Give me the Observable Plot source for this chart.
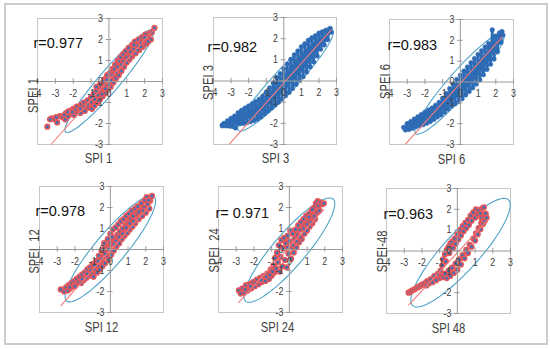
<!DOCTYPE html>
<html><head><meta charset="utf-8">
<script src="https://cdn.jsdelivr.net/npm/d3@7"></script>
<script src="https://cdn.jsdelivr.net/npm/@observablehq/plot@0.6"></script>
<style>
body{margin:0;background:#fff;}
#fig{position:relative;width:550px;height:349px;overflow:hidden;background:#fff;}
#border{position:absolute;left:4px;top:3px;width:540px;height:338px;border:2px solid #cdcdcd;}
.panel{position:absolute;}
svg text{white-space:pre;}
</style></head><body><div id="fig"><div id="border"></div></div>
<script>
// ---- data (SPI, SPEI) ----
const p1 = [[-3.45,-2.15],[-3.2,-1.75],[-3.05,-1.8],[-2.9,-1.95],[-2.75,-1.65],[-2.6,-1.7],[-2.45,-1.8],[-2.4,-1.5],[-2.3,-1.65],[-2.2,-1.4],[-2.1,-1.55],[-2.0,-1.3],[-1.95,-1.6],[-1.85,-1.45],[-1.8,-1.2],[-1.7,-1.35],[-1.6,-1.5],[-1.55,-1.1],[-1.5,-1.3],[-1.4,-1.0],[-1.35,-1.4],[-1.3,-1.15],[-1.2,-0.9],[-1.15,-1.25],[-1.1,-1.05],[-1.0,-0.75],[-0.95,-1.3],[-0.9,-0.95],[-0.85,-0.6],[-0.8,-1.15],[-0.75,-0.8],[-0.7,-0.45],[-0.65,-1.0],[-0.6,-0.65],[-0.55,-0.3],[-0.5,-0.85],[-0.45,-0.5],[-0.4,-0.1],[-0.35,-0.7],[-0.3,-0.3],[-0.25,0.1],[-0.2,-0.55],[-0.15,-0.15],[-0.1,0.3],[-0.05,-0.4],[0,0.0],[0.05,0.4],[0.1,-0.25],[0.15,0.15],[0.2,0.6],[0.25,-0.05],[0.3,0.35],[0.35,0.8],[0.4,0.15],[0.45,0.55],[0.5,1.0],[0.55,0.3],[0.6,0.75],[0.65,1.15],[0.7,0.5],[0.75,0.95],[0.8,1.3],[0.85,0.7],[0.9,1.1],[0.95,1.45],[1.0,0.9],[1.05,1.25],[1.1,1.6],[1.15,1.05],[1.2,1.4],[1.3,1.75],[1.3,1.2],[1.4,1.55],[1.45,1.9],[1.5,1.35],[1.6,1.7],[1.65,2.0],[1.7,1.5],[1.8,1.85],[1.85,2.1],[1.9,1.65],[2.0,1.95],[2.05,2.25],[2.1,1.8],[2.2,2.1],[2.3,2.3],[2.35,2.0],[2.55,2.55],
  [-0.6,-0.9],[-0.4,-0.6],[-0.2,-0.35],[0,-0.15],[0.2,0.3],[0.4,0.45],[0.6,0.95],[0.8,0.95],[-0.3,0.0],[-0.1,0.1],[0.1,0.05],[0.3,0.6],[0.5,0.7],[0.7,0.8],[-0.8,-0.85],[-1.0,-1.0],[-1.2,-1.1],[-1.4,-1.2],[-1.6,-1.3],[-1.9,-1.35],[1.0,1.15],[1.2,1.2],[1.4,1.75],[1.6,1.5],[1.8,1.65],[2.0,2.1],[2.2,1.9],[2.4,2.35],[-2.5,-1.6],[-2.3,-1.45],[-2.05,-1.45],[-3.3,-1.8],[-2.95,-1.7],[-0.5,-0.15],[-0.7,-0.25]];
const p2 = [[-3.5,-2.08],[-2.55,-1.88],[-2.75,-2.22],[-3.5,-2.12],[-3.4,-2.0],[-3.3,-2.12],[-3.2,-1.88],[-3.1,-2.12],[-3.0,-1.76],[-2.9,-2.05],[-2.8,-1.66],[-2.7,-1.95],[-2.6,-1.5],[-2.5,-2.02],[-2.4,-1.38],[-2.3,-2.0],[-2.2,-1.28],[-2.1,-1.97],[-2.0,-1.18],[-1.9,-1.92],[-1.8,-1.08],[-1.7,-1.87],[-1.6,-0.98],[-1.5,-1.8],[-1.4,-0.86],[-1.3,-1.7],[-1.2,-0.72],[-1.1,-1.56],[-1.0,-0.52],[-0.9,-1.42],[-0.8,-0.32],[-0.7,-1.28],[-0.6,-0.1],[-0.5,-1.14],[-0.4,0.18],[-0.3,-1.0],[-0.2,0.35],[-0.1,-0.85],[0.0,0.58],[0.1,-0.7],[0.2,0.8],[0.3,-0.54],[0.4,1.02],[0.5,-0.36],[0.6,1.24],[0.7,-0.16],[0.8,1.42],[0.9,0.04],[1.0,1.62],[1.1,0.2],[1.2,1.76],[1.3,0.42],[1.4,1.92],[1.5,0.66],[1.6,2.04],[1.7,0.9],[1.8,2.14],[1.9,1.18],[2.0,2.26],[2.1,1.5],[2.2,2.33],[2.3,1.7],[2.4,2.4],[2.5,1.95],[2.6,2.46],[2.7,2.3],[2.65,2.48]];
const p3 = [[-3.2,-2.18],[-3.1,-2.3],[-3.0,-2.0],[-2.9,-2.28],[-2.8,-1.9],[-2.7,-2.22],[-2.6,-1.78],[-2.5,-2.15],[-2.4,-1.67],[-2.3,-2.1],[-2.2,-1.56],[-2.1,-2.05],[-2.0,-1.45],[-1.9,-1.98],[-1.8,-1.35],[-1.7,-1.9],[-1.6,-1.25],[-1.5,-1.8],[-1.4,-1.12],[-1.3,-1.68],[-1.2,-0.98],[-1.1,-1.58],[-1.0,-0.78],[-0.9,-1.45],[-0.8,-0.55],[-0.7,-1.3],[-0.6,-0.32],[-0.5,-1.15],[-0.4,-0.1],[-0.3,-1.05],[-0.2,0.12],[-0.1,-0.95],[0,0.32],[0.1,-0.8],[0.2,0.52],[0.3,-0.62],[0.4,0.72],[0.5,-0.45],[0.6,0.92],[0.7,-0.28],[0.8,1.12],[0.9,-0.1],[1.0,1.32],[1.1,0.1],[1.2,1.5],[1.3,0.35],[1.4,1.68],[1.5,0.6],[1.6,1.85],[1.7,0.85],[1.8,2.5],[1.9,1.1],[2.0,2.2],[2.1,1.45],[2.2,2.35],[2.3,1.9],[2.35,2.42],[2.4,2.25]];
const p4 = [[-2.8,-1.9],[-2.6,-2.0],[-2.5,-1.8],[-2.4,-1.95],[-2.35,-1.7],[-2.25,-1.85],[-2.2,-1.6],[-2.1,-1.75],[-2.05,-1.5],[-1.95,-1.65],[-1.9,-1.4],[-1.8,-1.55],[-1.75,-1.3],[-1.65,-1.6],[-1.6,-1.2],[-1.5,-1.45],[-1.45,-1.1],[-1.35,-1.35],[-1.3,-0.95],[-1.2,-1.25],[-1.15,-0.85],[-1.05,-1.15],[-1.0,-0.7],[-0.95,-1.3],[-0.9,-0.95],[-0.8,-0.55],[-0.75,-1.1],[-0.7,-0.8],[-0.65,-0.3],[-0.6,-0.95],[-0.55,-0.55],[-0.5,-0.05],[-0.45,-0.8],[-0.4,-0.35],[-0.35,0.3],[-0.3,-0.65],[-0.25,0.05],[-0.2,-0.3],[-0.15,0.5],[-0.1,-0.5],[-0.05,0.2],[0,0.75],[0.05,-0.25],[0.1,0.35],[0.15,0.95],[0.2,-0.05],[0.25,0.55],[0.3,1.05],[0.35,0.15],[0.4,0.7],[0.45,1.2],[0.5,0.3],[0.55,0.85],[0.6,1.35],[0.65,0.5],[0.7,1.0],[0.75,1.45],[0.8,0.65],[0.85,1.15],[0.9,1.6],[0.95,0.8],[1.0,1.3],[1.05,1.7],[1.1,0.95],[1.15,1.45],[1.2,1.85],[1.25,1.1],[1.3,1.6],[1.4,1.95],[1.4,1.25],[1.5,1.7],[1.55,2.05],[1.6,1.45],[1.7,1.85],[1.75,2.2],[1.8,1.6],[1.9,2.0],[1.95,2.35],[2.0,1.75],[2.05,2.5],[2.1,2.15],[2.2,1.95],[2.25,2.35],[2.35,2.55],
  [-0.5,-0.45],[-0.3,-0.2],[-0.1,0.0],[0.1,0.6],[0.3,0.4],[0.5,0.6],[0.7,0.75],[0.9,1.05],[1.1,1.25],[1.3,1.35],[-0.7,-0.55],[-0.9,-0.75],[-1.1,-1.0],[-1.3,-1.15],[-1.6,-1.4],[-2.0,-1.75],[-2.3,-1.8],[1.6,1.8],[1.85,1.85],[2.15,2.35],[0,0.3],[0.2,0.25],[-0.4,0.0]];
const p5 = [[-2.85,-1.95],[-2.75,-2.1],[-2.65,-1.85],[-2.55,-2.05],[-2.45,-1.7],[-2.35,-1.95],[-2.25,-1.65],[-2.15,-1.85],[-2.05,-1.55],[-1.95,-1.75],[-1.85,-1.45],[-1.75,-1.65],[-1.65,-1.35],[-1.55,-1.55],[-1.45,-1.25],[-1.35,-1.5],[-1.25,-1.15],[-1.15,-1.4],[-1.05,-0.95],[-1.0,-1.25],[-0.9,-0.75],[-0.85,-1.1],[-0.8,-0.4],[-0.75,-0.9],[-0.7,-0.15],[-0.65,-0.6],[-0.6,0.2],[-0.55,-1.05],[-0.5,-0.35],[-0.45,0.45],[-0.4,-0.8],[-0.35,0.05],[-0.3,0.55],[-0.25,-0.5],[-0.2,0.3],[-0.15,-0.85],[-0.1,0.65],[-0.05,-0.2],[0,0.4],[0.05,0.9],[0.1,-0.45],[0.15,0.1],[0.2,0.75],[0.25,-0.15],[0.3,0.5],[0.35,0.95],[0.4,0.1],[0.45,0.7],[0.5,1.15],[0.55,0.35],[0.6,0.95],[0.65,1.3],[0.7,0.5],[0.75,1.1],[0.8,1.45],[0.85,0.75],[0.9,1.25],[0.95,1.6],[1.0,0.9],[1.05,1.35],[1.1,1.7],[1.15,1.1],[1.2,1.5],[1.25,1.85],[1.3,1.25],[1.35,1.65],[1.4,2.0],[1.45,1.45],[1.5,2.2],[1.55,1.75],[1.6,2.3],[1.65,2.1],[1.75,2.25],[1.85,2.15],[1.95,2.2],[1.7,1.85],[1.3,1.9],[1.1,1.55],
  [-2.5,-1.9],[-2.2,-1.75],[-1.9,-1.6],[-1.6,-1.45],[-1.3,-1.3],[-1.1,-1.2],[-0.95,-1.05],[0.6,0.6],[0.8,1.0],[1.0,1.2],[1.2,1.3],[1.4,1.6],[0.2,0.2],[0.4,0.4],[-0.1,0.1]];
const p6 = [[-2.75,-2.0],[-2.65,-1.95],[-2.55,-1.9],[-2.45,-1.85],[-2.35,-1.8],[-2.25,-1.75],[-2.15,-1.7],[-2.05,-1.65],[-1.95,-1.6],[-1.85,-1.55],[-1.75,-1.65],[-1.7,-1.45],[-1.6,-1.55],[-1.5,-1.35],[-1.4,-1.5],[-1.3,-1.2],[-1.2,-1.4],[-1.1,-1.1],[-1.0,-1.3],[-0.95,-0.95],[-0.9,-1.2],[-0.85,-0.7],[-0.8,-0.4],[-0.7,-0.15],[-0.65,-0.5],[-0.6,0.05],[-0.5,0.2],[-0.45,-0.1],[-0.4,0.35],[-0.3,0.45],[-0.25,0.15],[-0.15,0.6],[-0.1,0.35],[0,0.8],[0.05,0.55],[0.15,1.0],[0.2,0.75],[0.3,1.2],[0.35,0.95],[0.45,1.35],[0.5,1.1],[0.6,1.5],[0.65,1.25],[0.75,1.7],[0.8,1.45],[0.9,1.85],[1.0,1.6],[1.05,2.0],[1.15,1.75],[1.2,1.95],[1.3,1.8],[1.4,2.05],[1.5,2.1],[1.35,1.6],[-0.8,-1.25],[-0.7,-1.1],[-0.6,-1.3],[-0.5,-0.95],[-0.4,-1.2],[-0.3,-0.8],[-0.2,-1.05],[-0.1,-0.6],[0,-0.9],[0.1,-0.4],[0.2,-0.65],[0.3,-0.2],[0.4,-0.35],[0.5,0.05],[0.6,-0.1],[0.7,0.3],[0.8,0.2],[0.9,0.6],[1.0,0.5],[1.05,0.85],[1.15,0.8],[1.2,1.1],[1.3,1.05],[1.35,1.35],[1.45,1.3],[1.5,1.6],[1.55,1.45],[1.6,1.8],[1.65,1.6]];
const panelPoints = [p1, p2, p3, p4, p5, p6];
const connected = [false, true, true, false, false, false];

// regression line end points (SPI, SPEI)
const fitX = [[-3.25, 2.55], [-3.1, 2.7], [-3.1, 2.35], [-2.79, 2.39], [-2.86, 1.94], [-2.74, 1.68]];
const fitY = [[-3.0, 2.5], [-2.98, 2.42], [-2.98, 2.15], [-2.67, 2.25], [-2.52, 1.91], [-2.59, 1.46]];
// ellipse: centre x, centre y, semi-major, semi-minor, angle (deg)
const ellipses = [[0.02,0.02,3.44,0.55,44.6],[0.1,0.035,3.58,0.6,41.2],[-0.045,-0.08,3.45,0.6,43.9],[0,0.03,3.5,0.8,44.6],[0,-0.03,3.47,0.85,44],[0.18,-0.08,3.71,0.95,42.6]];

const rLabels = ["r=0.977","r=0.982","r=0.983","r=0.978","r= 0.971","r=0.963"];
const xTitles = ["SPI 1","SPI 3","SPI 6","SPI 12","SPI 24","SPI 48"];
const yTitles = ["SPEI 1","SPEI 3","SPEI 6","SPEI  12","SPEI  24","SPEI-48"];
const xTicks = [-4,-3,-2,-1,0,1,2,3];
const yTicks = [-3,-2,-1,0,1,2,3];

// ---- layout ----
const frames = [[37,18,125,126],[213,17,123,127],[389,19,124,125],[39,186,124,126],[218,186,124,126],[386,188,124,125]];
const rPos = [[33,37],[207,41],[387,39],[35,205],[215,207],[383,208]];
const xTitlePos = [[98,153],[275,153],[451,154],[101,322],[277,322],[448,323]];
const yTitlePos = [[28,95],[203,82],[380,81],[29,251],[209,250],[377,251]];

const FONT = "'Liberation Sans', Arial, sans-serif";
const ML = 50, MT = 32, MR = 14, MB = 28;
const fig = document.getElementById("fig");

function ellipsePts([cx, cy, a, b, deg]) {
  const t = deg * Math.PI / 180;
  return d3.range(0, 361, 4).map(k => {
    const th = k * Math.PI / 180;
    return {x: cx + a*Math.cos(th)*Math.cos(t) - b*Math.sin(th)*Math.sin(t),
            y: cy + a*Math.cos(th)*Math.sin(t) + b*Math.sin(th)*Math.cos(t)};
  });
}

panelPoints.forEach((pts, i) => {
  const [fx, fy, fw, fh] = frames[i];
  const blue = "#2d6bb5";
  const marks = [
    Plot.frame({stroke: "#c6c6c6", strokeWidth: 1}),
    Plot.line(ellipsePts(ellipses[i]), {x: "x", y: "y", stroke: "#4ea3c9", strokeWidth: 1.1, curve: "linear"})
  ];
  if (connected[i]) {
    marks.push(Plot.line(pts, {x: d => d[0], y: d => d[1], stroke: blue, strokeWidth: 2.6, strokeLinejoin: "round"}));
    marks.push(Plot.dot(pts, {x: d => d[0], y: d => d[1], r: 2.3, fill: blue, stroke: blue, strokeWidth: 0.5}));
  } else {
    marks.push(Plot.dot(pts, {x: d => d[0], y: d => d[1], r: 2.3, fill: "#3f6fb4", stroke: "#e4575b", strokeWidth: 1.6}));
  }
  marks.push(
    Plot.line([0, 1], {x: k => fitX[i][k], y: k => fitY[i][k], stroke: "#f07a7a", strokeWidth: 1.1}),
    Plot.ruleY([0], {stroke: "#9a9a9a", strokeWidth: 1}),
    Plot.ruleX([0], {stroke: "#9a9a9a", strokeWidth: 1}),
    Plot.ruleX(xTicks, {x: d => d, y1: -0.13, y2: 0.13, stroke: "#9a9a9a"}),
    Plot.ruleY(yTicks, {y: d => d, x1: -0.15, x2: 0.15, stroke: "#9a9a9a"}),
    Plot.text(xTicks, {x: d => d, y: 0, dy: 12, text: d => String(d), fontSize: 10, fontFamily: FONT, fill: "#404040"}),
    Plot.text(yTicks, {x: 0, y: d => d, dx: -6, text: d => String(d), textAnchor: "end", fontSize: 10, fontFamily: FONT, fill: "#404040"}),
    Plot.text([rLabels[i]], {frameAnchor: "top-left", dx: rPos[i][0] - fx, dy: rPos[i][1] - fy, text: d => d, textAnchor: "start", fontSize: 14.5, fontFamily: FONT, fill: "#111"}),
    Plot.text([xTitles[i]], {frameAnchor: "top-left", dx: xTitlePos[i][0] - fx, dy: xTitlePos[i][1] - fy, text: d => d, textAnchor: "middle", fontSize: 14, fontFamily: FONT, fill: "#404040"}),
    Plot.text([yTitles[i]], {frameAnchor: "top-left", dx: yTitlePos[i][0] - fx, dy: yTitlePos[i][1] - fy, text: d => d, textAnchor: "middle", rotate: -90, fontSize: 14, fontFamily: FONT, fill: "#404040"})
  );
  const svg = Plot.plot({
    width: fw + ML + MR, height: fh + MT + MB,
    marginLeft: ML, marginTop: MT, marginRight: MR, marginBottom: MB,
    x: {domain: [-4, 3], axis: null},
    y: {domain: [-3, 3], axis: null},
    style: {background: "transparent", overflow: "visible"},
    marks
  });
  svg.classList.add("panel");
  svg.style.left = (fx - ML) + "px";
  svg.style.top = (fy - MT) + "px";
  fig.appendChild(svg);
  // condensed look of the axis titles and tick labels (as in the source figure)
  svg.querySelectorAll("text").forEach(t => {
    const s = t.textContent;
    let k = 0;
    if (xTitles.includes(s) || yTitles.includes(s)) k = 0.8;
    else if (/^-?\d$/.test(s)) k = 0.88;
    if (k) {
      const L = t.getComputedTextLength();
      if (L > 0) { t.setAttribute("textLength", (L * k).toFixed(2)); t.setAttribute("lengthAdjust", "spacingAndGlyphs"); }
    }
  });
});
</script></body></html>
